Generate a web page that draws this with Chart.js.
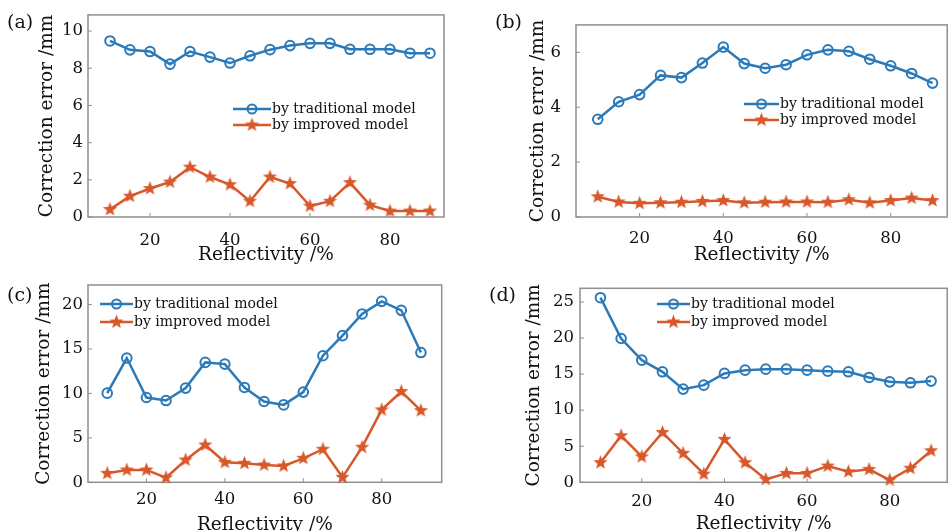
<!DOCTYPE html>
<html>
<head>
<meta charset="utf-8">
<script src="https://cdn.jsdelivr.net/npm/chart.js@4.4.1/dist/chart.umd.min.js"></script>
<style>
  html, body { margin: 0; padding: 0; background: #fff; }
  body { width: 948px; height: 531px; overflow: hidden; position: relative; font-family: "DejaVu Serif", serif; }
  .panel { position: absolute; }
  .tag { position: absolute; font-size: 19px; color: #111; line-height: 1; }
</style>
</head>
<body>
<canvas id="chartA" class="panel" width="474" height="270" style="left:0;top:0"></canvas>
<canvas id="chartB" class="panel" width="480" height="270" style="left:474px;top:0"></canvas>
<canvas id="chartC" class="panel" width="474" height="270" style="left:0;top:270px"></canvas>
<canvas id="chartD" class="panel" width="480" height="270" style="left:474px;top:270px"></canvas>
<div class="tag" style="left:7px;top:12px">(a)</div>
<div class="tag" style="left:495px;top:12px">(b)</div>
<div class="tag" style="left:7px;top:285px">(c)</div>
<div class="tag" style="left:489px;top:285px">(d)</div>
<script>
// reflectivity (%) on the x axis
const reflectivity = [10, 15, 20, 25, 30, 35, 40, 45, 50, 55, 60, 65, 70, 75, 80, 85, 90]
const xTickValues = [20, 40, 60, 80]

// (a)
const tradA = [9.47, 8.99, 8.9, 8.22, 8.9, 8.6, 8.28, 8.67, 9.0, 9.22, 9.34, 9.34, 9.02, 9.02, 9.02, 8.81, 8.81]
const impA = [0.41, 1.12, 1.53, 1.88, 2.68, 2.15, 1.74, 0.85, 2.15, 1.8, 0.59, 0.85, 1.85, 0.64, 0.32, 0.32, 0.32]
const yTicksA = [0, 2, 4, 6, 8, 10]

// (b)
const tradB = [3.56, 4.2, 4.46, 5.16, 5.08, 5.61, 6.19, 5.59, 5.42, 5.55, 5.91, 6.09, 6.04, 5.75, 5.51, 5.23, 4.88]
const impB = [0.74, 0.55, 0.5, 0.52, 0.54, 0.57, 0.6, 0.52, 0.54, 0.55, 0.55, 0.54, 0.63, 0.52, 0.6, 0.69, 0.6]
const yTicksB = [0, 2, 4, 6]

// (c)
const tradC = [10.03, 13.98, 9.54, 9.2, 10.6, 13.49, 13.3, 10.67, 9.09, 8.71, 10.15, 14.24, 16.5, 18.94, 20.36, 19.35, 14.6]
const impC = [1.01, 1.39, 1.39, 0.52, 2.51, 4.2, 2.25, 2.14, 1.95, 1.84, 2.7, 3.72, 0.56, 3.95, 8.15, 10.21, 8.07]
const yTicksC = [0, 5, 10, 15, 20]

// (d)
const tradD = [25.6, 19.94, 16.94, 15.32, 12.92, 13.47, 15.1, 15.55, 15.69, 15.69, 15.55, 15.41, 15.32, 14.54, 13.93, 13.8, 14.03]
const impD = [2.72, 6.46, 3.55, 6.92, 4.02, 1.15, 5.96, 2.72, 0.41, 1.24, 1.24, 2.26, 1.47, 1.8, 0.32, 1.94, 4.38]
const yTicksD = [0, 5, 10, 15, 20, 25]

const seriesNames = ['by traditional model', 'by improved model']
const xTitle = 'Reflectivity /%'
const yTitle = 'Correction error /mm'

const BLUE = '#2a79b9'
const ORANGE = '#d8582a'
const FONT = '"DejaVu Serif", "Liberation Serif", serif'

// filled five-point star, used as point style
function makeStar(color, r) {
  const s = Math.ceil(r * 2 + 2)
  const c = document.createElement('canvas')
  c.width = s
  c.height = s
  const g = c.getContext('2d')
  g.fillStyle = color
  g.beginPath()
  for (let i = 0; i < 10; i++) {
    const rad = i % 2 ? r * 0.42 : r
    const a = -Math.PI / 2 + i * Math.PI / 5
    g.lineTo(s / 2 + rad * Math.cos(a), s / 2 + rad * Math.sin(a))
  }
  g.closePath()
  g.fill()
  return c
}
const starImg = makeStar(ORANGE, 7.5)

// box around the plot area with small inward ticks
const boxPlugin = {
  id: 'box',
  beforeDatasetsDraw(chart) {
    const { ctx, chartArea: a, scales } = chart
    ctx.save()
    ctx.strokeStyle = '#8f8f8f'
    ctx.lineWidth = 1.5
    ctx.strokeRect(a.left, a.top, a.right - a.left, a.bottom - a.top)
    ctx.lineWidth = 1
    ctx.beginPath()
    scales.x.ticks.forEach(t => {
      const px = scales.x.getPixelForValue(t.value)
      ctx.moveTo(px, a.bottom)
      ctx.lineTo(px, a.bottom - 4)
    })
    scales.y.ticks.forEach(t => {
      const py = scales.y.getPixelForValue(t.value)
      ctx.moveTo(a.left, py)
      ctx.lineTo(a.left + 4, py)
    })
    ctx.stroke()
    ctx.restore()
  }
}

// legend drawn inside the plot area
const legendPlugin = {
  id: 'innerLegend',
  afterDraw(chart, args, opts) {
    const { ctx } = chart
    ctx.save()
    chart.data.datasets.forEach((ds, i) => {
      const y = opts.rows[i]
      const mid = (opts.x0 + opts.x1) / 2
      ctx.strokeStyle = ds.borderColor
      ctx.lineWidth = 2.5
      ctx.beginPath()
      ctx.moveTo(opts.x0, y)
      ctx.lineTo(opts.x1, y)
      ctx.stroke()
      if (i === 0) {
        ctx.lineWidth = 2
        ctx.beginPath()
        ctx.arc(mid, y, 4.5, 0, Math.PI * 2)
        ctx.stroke()
      } else {
        ctx.drawImage(starImg, mid - starImg.width / 2, y - starImg.height / 2)
      }
      ctx.fillStyle = '#111'
      ctx.font = '14px ' + FONT
      ctx.textBaseline = 'middle'
      ctx.fillText(ds.label, opts.x1 + 1, y)
    })
    ctx.restore()
  }
}

function makePanel(id, trad, imp, yTicks, lay) {
  const ctx = document.getElementById(id).getContext('2d')
  return new Chart(ctx, {
    type: 'line',
    data: {
      datasets: [{
        label: seriesNames[0],
        data: reflectivity.map((x, i) => ({ x: x, y: trad[i] })),
        borderColor: BLUE,
        backgroundColor: 'rgba(0,0,0,0)',
        borderWidth: 2.5,
        pointStyle: 'circle',
        pointRadius: 4.8,
        pointBorderWidth: 2,
        pointBorderColor: BLUE,
        pointBackgroundColor: 'rgba(0,0,0,0)',
        tension: 0,
        clip: false
      }, {
        label: seriesNames[1],
        data: reflectivity.map((x, i) => ({ x: x, y: imp[i] })),
        borderColor: ORANGE,
        backgroundColor: ORANGE,
        borderWidth: 2.5,
        pointStyle: starImg,
        tension: 0,
        clip: false
      }]
    },
    options: {
      responsive: false,
      animation: false,
      events: [],
      layout: { padding: lay.pad },
      plugins: {
        legend: { display: false },
        tooltip: { enabled: false },
        innerLegend: lay.legend
      },
      scales: {
        x: {
          type: 'linear',
          min: lay.xMin,
          max: lay.xMax,
          afterBuildTicks: s => { s.ticks = xTickValues.map(v => ({ value: v })) },
          afterFit: s => { s.height = lay.xH },
          grid: { display: false, drawTicks: false },
          border: { display: false },
          ticks: { color: '#111', padding: lay.xTickPad, maxRotation: 0, font: { family: FONT, size: 16.5 } },
          title: { display: true, text: xTitle, color: '#111', padding: 0, font: { family: FONT, size: 18.5, lineHeight: 1.2 } }
        },
        y: {
          type: 'linear',
          min: 0,
          max: lay.yMax,
          afterBuildTicks: s => { s.ticks = yTicks.map(v => ({ value: v })) },
          afterFit: s => { s.width = lay.yW },
          grid: { display: false, drawTicks: false },
          border: { display: false },
          ticks: { color: '#111', padding: lay.yTickPad, font: { family: FONT, size: 16.5 } },
          title: { display: true, text: yTitle, color: '#111', padding: 0, font: { family: FONT, size: 18.5, lineHeight: 1.2 } }
        }
      }
    },
    plugins: [boxPlugin, legendPlugin]
  })
}

makePanel('chartA', tradA, impA, yTicksA, {
  pad: { left: 36, right: 30, top: 13, bottom: 3.6 }, yW: 52, xH: 49.4,
  xMin: 4.5, xMax: 93.5, yMax: 10.87, xTickPad: 13.5, yTickPad: 5,
  legend: { x0: 233, x1: 271, rows: [109, 125] }
})
makePanel('chartB', tradB, impB, yTicksB, {
  pad: { left: 53, right: 3.6, top: 10, bottom: 3.6 }, yW: 49, xH: 49.4,
  xMin: 4.8, xMax: 93.5, yMax: 7.0, xTickPad: 11.5, yTickPad: 15,
  legend: { x0: 270, x1: 305, rows: [104, 120] }
})
makePanel('chartC', tradC, impC, yTicksC, {
  pad: { left: 33, right: 32.3, top: 15, bottom: 4 }, yW: 55, xH: 53.7,
  xMin: 5.1, xMax: 95.3, yMax: 22.2, xTickPad: 8, yTickPad: 5,
  legend: { x0: 100, x1: 133, rows: [34, 52] }
})
makePanel('chartD', tradD, impD, yTicksD, {
  pad: { left: 49, right: 3.7, top: 18.3, bottom: 4.6 }, yW: 57, xH: 53.1,
  xMin: 5.05, xMax: 93.9, yMax: 26.9, xTickPad: 10, yTickPad: 6,
  legend: { x0: 183, x1: 216, rows: [34, 52] }
})
</script>
</body>
</html>
